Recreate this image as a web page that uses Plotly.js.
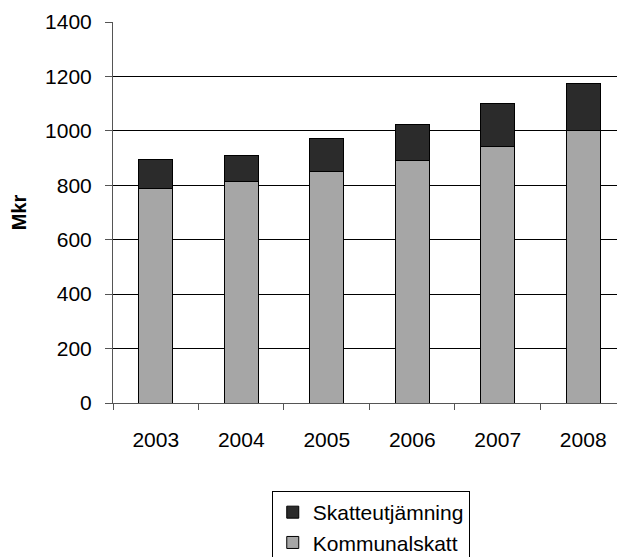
<!DOCTYPE html>
<html>
<head>
<meta charset="utf-8">
<script src="https://cdn.plot.ly/plotly-3.0.1.min.js"></script>
<style>html,body{margin:0;padding:0;background:#fff;overflow:hidden;width:617px;height:557px;}</style>
</head>
<body>
<div id="chart" style="width:617px;height:600px;"></div>
<script>
const years = ["2003", "2004", "2005", "2006", "2007", "2008"];
const kommunalskatt = [789, 814, 849, 890, 941, 1000];
const skatteutjamning = [106, 97, 122, 135, 159, 173];
const yTicks = [0, 200, 400, 600, 800, 1000, 1200, 1400];

const font = "Liberation Sans, Arial, sans-serif";

const traces = [
  {
    type: "bar", name: "Kommunalskatt", x: years, y: kommunalskatt,
    width: 0.4,
    marker: {color: "#a6a6a6", line: {color: "#000000", width: 1}}
  },
  {
    type: "bar", name: "Skatteutjämning", x: years, y: skatteutjamning,
    width: 0.4,
    marker: {color: "#2b2b2b", line: {color: "#000000", width: 1}}
  }
];

const layout = {
  width: 617, height: 600,
  margin: {l: 113, r: 0, t: 22, b: 197, pad: 0},
  paper_bgcolor: "#ffffff", plot_bgcolor: "#ffffff",
  barmode: "stack",
  showlegend: true,
  font: {family: font, size: 21, color: "#000000"},
  xaxis: {
    type: "category",
    range: [-0.5, 5.395],
    tickson: "boundaries",
    ticks: "outside", ticklen: 6, tickcolor: "#555555", tickwidth: 1,
    ticklabelstandoff: 18,
    showline: true, linecolor: "#555555", linewidth: 1,
    showgrid: false, zeroline: false,
    tickfont: {family: font, size: 21, color: "#000000"},
    automargin: false,
    fixedrange: true
  },
  yaxis: {
    range: [0, 1400],
    tickvals: yTicks,
    ticktext: yTicks.map(String),
    ticks: "outside", ticklen: 7, tickcolor: "#555555", tickwidth: 1,
    ticklabelstandoff: 9,
    showline: true, linecolor: "#555555", linewidth: 1,
    showgrid: true, gridcolor: "#000000", gridwidth: 1,
    zeroline: false,
    tickfont: {family: font, size: 21, color: "#000000"},
    title: {text: "<b>Mkr</b>", font: {family: font, size: 20, color: "#000000"}, standoff: 13},
    automargin: false,
    fixedrange: true
  },
  legend: {
    x: 0.315, xanchor: "left",
    y: -0.231, yanchor: "top",
    traceorder: "reversed",
    bordercolor: "#000000", borderwidth: 1,
    bgcolor: "#ffffff",
    font: {family: font, size: 21, color: "#000000"}
  }
};

Plotly.newPlot("chart", traces, layout, {displayModeBar: false, staticPlot: true});
</script>
</body>
</html>
